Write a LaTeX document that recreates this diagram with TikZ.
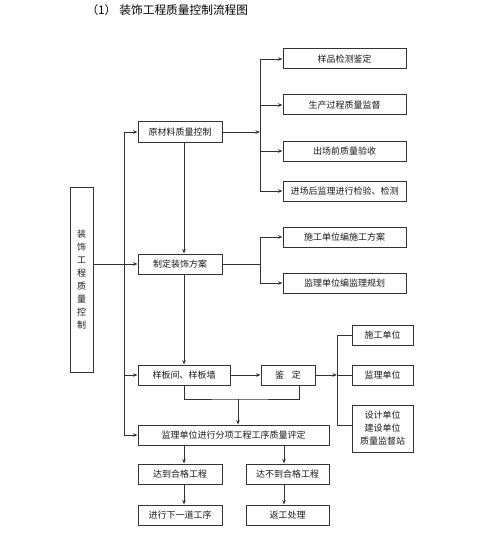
\documentclass[tikz,border=0pt]{standalone}
\usepackage{fontspec}
\setmainfont{Noto Sans CJK SC}
\usetikzlibrary{arrows.meta, positioning}
\definecolor{linegray}{RGB}{50,50,50}
\definecolor{textgray}{RGB}{25,25,25}

\begin{document}
\begin{tikzpicture}[
      x=1pt, y=-1pt,
      node distance=20pt and 30pt,
      box/.style={draw=linegray, line width=1pt, minimum height=20pt,
                  inner sep=1pt, align=center, text=textgray,
                  font=\fontsize{9}{13}\selectfont},
      arr/.style={-{Stealth[length=4.5pt, width=3.5pt]}, draw=linegray, line width=0.9pt},
      ln/.style={draw=linegray, line width=0.9pt}
    ]
    \fill[white] (0,0) rectangle (500,559);
    \useasboundingbox (0,0) rectangle (500,559);

    \node[anchor=west, font=\fontsize{11.7}{14}\selectfont] (title) at (83,10)
      {（1）\hspace{3pt}装饰工程质量控制流程图};

    % main column
    \node[box, minimum width=84pt] (ycl) at (180,132) {原材料质量控制};
    \node[box, minimum width=84pt] (zdfa) at (180,264) {制定装饰方案};
    \node[box, minimum width=92pt] (ybj) at (184,375) {样板间、样板墙};
    \node[box, minimum width=54pt, right=30pt of ybj] (jd) {鉴\hspace{8pt}定};
    \node[box, minimum width=191pt] (pd) at (233.5,435)
      {监理单位进行分项工程工序质量评定};
    \node[box, minimum width=84pt] (hg) at (180,474) {达到合格工程};
    \node[box, minimum width=83pt] (bhg) at (287.5,474) {达不到合格工程};
    \node[box, minimum width=84pt, below=20pt of hg] (xyd) {进行下一道工序};
    \node[box, minimum width=83pt, below=20pt of bhg] (fg) {返工处理};

    % left box
    \node[box, minimum width=23pt, minimum height=185pt] (zsgc) at (81.5,279.5)
      {装\\饰\\工\\程\\质\\量\\控\\制};

    % right column
    \node[box, minimum width=123pt] (ypjc) at (344.5,59) {样品检测鉴定};
    \node[box, minimum width=123pt] (scgc) at (344.5,105) {生产过程质量监督};
    \node[box, minimum width=123pt] (ccq) at (344.5,151) {出场前质量验收};
    \node[box, minimum width=123pt] (jch) at (344.5,191) {进场后监理进行检验、检测};
    \node[box, minimum width=123pt] (sgfa) at (344.5,237) {施工单位编施工方案};
    \node[box, minimum width=123pt] (jlgh) at (344.5,283) {监理单位编监理规划};

    \node[box, minimum width=61pt] (sgdw) at (382.5,335) {施工单位};
    \node[box, minimum width=61pt] (jldw) at (382.5,375) {监理单位};
    \node[box, minimum width=61pt, minimum height=47pt] (sjdw) at (382.5,428.5)
      {设计单位\\建设单位\\质量监督站};

    % branch points
    \coordinate (zhu) at (124,132);
    \coordinate (fen1) at (260,132);
    \coordinate (fen2) at (260,264);
    \coordinate (fen3) at (337,375);
    \coordinate (fen3b) at (337,425);
    \coordinate (hb) at (238,399);
    \coordinate (jdx) at (299,385);

    % left spine
    \draw[ln] (zhu |- ycl) -- (zhu |- pd);
    \foreach \n in {ycl,ybj,pd}
      \draw[arr] (zhu |- \n) -- (\n);
    \draw[arr] (zsgc.east |- zdfa) -- (zdfa);

    % main flow
    \draw[arr] (ycl.south -| ybj) -- (zdfa.north -| ybj);
    \draw[arr] (zdfa.south -| ybj) -- (ybj);
    \draw[arr] (ybj) -- (jd);
    \draw[ln] (ybj.south) |- (hb) -| (jdx);
    \draw[arr] (hb) -- (hb |- pd.north);
    \draw[arr] (pd.south -| ybj) -- (hg.north -| ybj);
    \draw[arr] (pd.south -| 284,0) -- (bhg.north -| 284,0);
    \draw[arr] (hg.south -| ybj) -- (xyd.north -| ybj);
    \draw[arr] (bhg.south -| 284,0) -- (fg.north -| 284,0);

    % materials branch
    \draw[arr] (ycl) -- (fen1);
    \draw[ln] (fen1 |- ypjc) -- (fen1 |- jch);
    \foreach \n in {ypjc,scgc,ccq,jch}
      \draw[arr] (fen1 |- \n) -- (\n);

    % plan branch
    \draw[ln] (zdfa) -- (fen2);
    \draw[ln] (fen2 |- sgfa) -- (fen2 |- jlgh);
    \foreach \n in {sgfa,jlgh}
      \draw[arr] (fen2 |- \n) -- (\n);

    % appraisal branch
    \draw[arr] (jd) -- (fen3);
    \draw[ln] (fen3 |- sgdw) -- (fen3b);
    \draw[ln] (fen3 |- sgdw) -- (sgdw);
    \draw[ln] (fen3) -- (jldw);
    \draw[ln] (fen3b) -- (sjdw.west |- fen3b);
  \end{tikzpicture}
\end{document}
